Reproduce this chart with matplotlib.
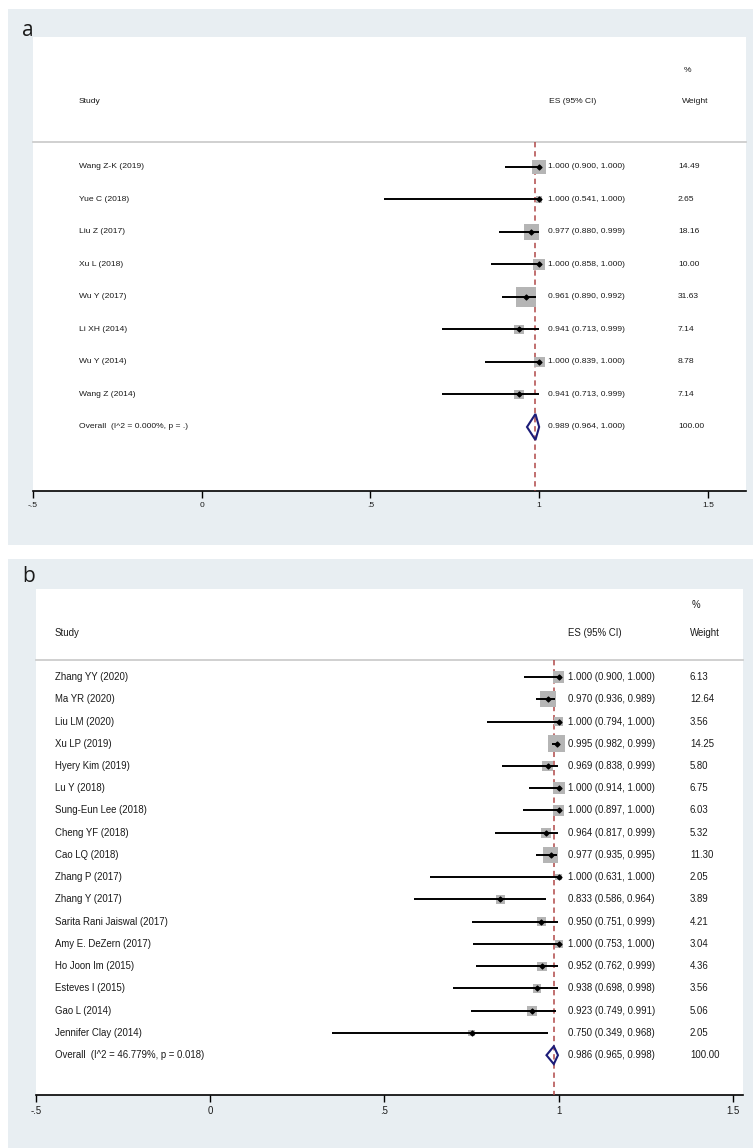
import matplotlib
matplotlib.use("Agg")
import matplotlib.pyplot as plt
from matplotlib import font_manager
from matplotlib.patches import Rectangle, Polygon
from matplotlib.transforms import blended_transform_factory

# ---------------- data ----------------
studies_a = ["Wang Z-K (2019)", "Yue C (2018)", "Liu Z (2017)", "Xu L (2018)",
             "Wu Y (2017)", "Li XH (2014)", "Wu Y (2014)", "Wang Z (2014)"]
es_a = [1.000, 1.000, 0.977, 1.000, 0.961, 0.941, 1.000, 0.941]
lo_a = [0.900, 0.541, 0.880, 0.858, 0.890, 0.713, 0.839, 0.713]
hi_a = [1.000, 1.000, 0.999, 1.000, 0.992, 0.999, 1.000, 0.999]
w_a = [14.49, 2.65, 18.16, 10.00, 31.63, 7.14, 8.78, 7.14]
overall_a = [0.989, 0.964, 1.000]
overall_w_a = 100.00
overall_label_a = "Overall  (I^2 = 0.000%, p = .)"

studies_b = ["Zhang YY (2020)", "Ma YR (2020)", "Liu LM (2020)", "Xu LP (2019)",
             "Hyery Kim (2019)", "Lu Y (2018)", "Sung-Eun Lee (2018)", "Cheng YF (2018)",
             "Cao LQ (2018)", "Zhang P (2017)", "Zhang Y (2017)",
             "Sarita Rani Jaiswal (2017)", "Amy E. DeZern (2017)", "Ho Joon Im (2015)",
             "Esteves I (2015)", "Gao L (2014)", "Jennifer Clay (2014)"]
es_b = [1.000, 0.970, 1.000, 0.995, 0.969, 1.000, 1.000, 0.964, 0.977, 1.000,
        0.833, 0.950, 1.000, 0.952, 0.938, 0.923, 0.750]
lo_b = [0.900, 0.936, 0.794, 0.982, 0.838, 0.914, 0.897, 0.817, 0.935, 0.631,
        0.586, 0.751, 0.753, 0.762, 0.698, 0.749, 0.349]
hi_b = [1.000, 0.989, 1.000, 0.999, 0.999, 1.000, 1.000, 0.999, 0.995, 1.000,
        0.964, 0.999, 1.000, 0.999, 0.998, 0.991, 0.968]
w_b = [6.13, 12.64, 3.56, 14.25, 5.80, 6.75, 6.03, 5.32, 11.30, 2.05,
       3.89, 4.21, 3.04, 4.36, 3.56, 5.06, 2.05]
overall_b = [0.986, 0.965, 0.998]
overall_w_b = 100.00
overall_label_b = "Overall  (I^2 = 46.779%, p = 0.018)"

tick_vals = [-0.5, 0, 0.5, 1, 1.5]
tick_labels = ["-.5", "0", ".5", "1", "1.5"]

# ---------------- style ----------------
W, H = 753, 1148
DPI = 100
BG = "#e8eef2"
TXT = "#1a1a1a"
plt.rcParams['font.family'] = ['Liberation Sans', 'DejaVu Sans']

# narrow font for panel a if available
try:
    font_manager.findfont(font_manager.FontProperties(family="Liberation Sans Narrow"),
                          fallback_to_default=False)
    FAM_A = ['Liberation Sans Narrow', 'Liberation Sans', 'DejaVu Sans']
    FS_A = 7.3
except Exception:
    FAM_A = ['Liberation Sans', 'DejaVu Sans']
    FS_A = 6.1
FAM_B = ['Liberation Sans', 'DejaVu Sans']

fig = plt.figure(figsize=(W / DPI, H / DPI), dpi=DPI)
fig.patch.set_facecolor("white")


def px_rect(x0, y0, x1, y1):
    return [x0 / W, 1 - y1 / H, (x1 - x0) / W, (y1 - y0) / H]


# grey panel backgrounds
for (x0, y0, x1, y1) in [(8, 9, 753, 545), (8, 559, 753, 1148)]:
    l, b, w, h = px_rect(x0, y0, x1, y1)
    fig.add_artist(Rectangle((l, b), w, h, transform=fig.transFigure,
                             facecolor=BG, edgecolor="none", zorder=-5))

fig.text(22 / W, 1 - 30 / H, "a", fontsize=15, family=['Open Sans', 'DejaVu Sans'],
         va="center", ha="left", color=TXT)
fig.text(22 / W, 1 - 577 / H, "b", fontsize=15, family=['Open Sans', 'DejaVu Sans'],
         va="center", ha="left", color=TXT)


def forest(rect, studies, es, lo, hi, w, overall, overall_w, overall_label,
           xlim, ylim, fs, fam, box_k, x_name, x_val, x_wt, x_es_hdr, x_wt_hdr, y_pct,
           tick_len):
    ax = fig.add_axes(rect)
    ax.set_facecolor("white")
    ax.set_xlim(*xlim)
    ax.set_ylim(*ylim)
    tr = blended_transform_factory(ax.transAxes, ax.transData)
    kw = dict(transform=tr, fontsize=fs, family=fam, va="center", color=TXT)
    n = len(studies)
    rows = list(range(n))
    # headers
    ax.text(x_name, -2, "Study", **kw)
    ax.text(x_es_hdr, -2, "ES (95% CI)", **kw)
    ax.text(x_wt_hdr, -2, "Weight", **kw)
    ax.text(x_wt_hdr + 0.002, y_pct, "%", **kw)
    ax.plot([0, 1], [-0.77, -0.77], transform=tr, color="#c8c8c8", lw=1.2,
            clip_on=False, zorder=2)
    # reference dashed line at overall estimate
    ax.plot([overall[0], overall[0]], [-0.77, ylim[0]], color="#b04848", lw=1.1,
            ls=(0, (3.5, 2.5)), zorder=3)
    # boxes
    sizes = [(box_k * (wi ** 0.5) * 72 / DPI) ** 2 for wi in w]
    ax.scatter(es, rows, s=sizes, marker="s", color="#b5b5b5", edgecolors="none", zorder=4)
    for i in rows:
        ax.plot([lo[i], hi[i]], [i, i], color="black", lw=1.4, zorder=5,
                solid_capstyle="butt")
        ax.text(x_name, i, studies[i], **kw)
        ax.text(x_val, i, f"{es[i]:.3f} ({lo[i]:.3f}, {hi[i]:.3f})", **kw)
        ax.text(x_wt, i, f"{w[i]:.2f}", **kw)
    ax.scatter(es, rows, s=6, marker="D", color="black", zorder=6)
    # overall diamond
    yo = n
    hh = 0.4
    ax.add_patch(Polygon([(overall[1], yo), (overall[0], yo - hh), (overall[2], yo),
                          (overall[0], yo + hh)], closed=True, fill=False,
                         edgecolor="#1c1c78", lw=1.5, zorder=6))
    ax.text(x_name, yo, overall_label, **kw)
    ax.text(x_val, yo, f"{overall[0]:.3f} ({overall[1]:.3f}, {overall[2]:.3f})", **kw)
    ax.text(x_wt, yo, f"{overall_w:.2f}", **kw)
    # axis
    for s in ["top", "left", "right"]:
        ax.spines[s].set_visible(False)
    ax.spines["bottom"].set_linewidth(1.2)
    ax.set_yticks([])
    ax.set_xticks(tick_vals)
    ax.set_xticklabels(tick_labels, family=fam)
    ax.tick_params(axis="x", direction="out", length=tick_len, width=1.0, pad=3,
                   labelsize=fs, labelcolor=TXT)
    return ax


# panel a
forest(px_rect(33, 37, 746, 491), studies_a, es_a, lo_a, hi_a, w_a, overall_a,
       overall_w_a, overall_label_a,
       xlim=(-0.5, 1.613), ylim=(9.97, -4.0), fs=FS_A, fam=FAM_A, box_k=3.7,
       x_name=(79 - 33) / 713, x_val=(548 - 33) / 713, x_wt=(678 - 33) / 713,
       x_es_hdr=(549 - 33) / 713, x_wt_hdr=(682 - 33) / 713, y_pct=-2.98,
       tick_len=5)

# panel b
forest(px_rect(36, 589, 743, 1095), studies_b, es_b, lo_b, hi_b, w_b, overall_b,
       overall_w_b, overall_label_b,
       xlim=(-0.5, 1.529), ylim=(18.79, -3.957), fs=6.9, fam=FAM_B, box_k=4.5,
       x_name=(55 - 36) / 707, x_val=(568 - 36) / 707, x_wt=(690 - 36) / 707,
       x_es_hdr=(568 - 36) / 707, x_wt_hdr=(690 - 36) / 707, y_pct=-3.24,
       tick_len=5)

fig.savefig("out.png", dpi=DPI, facecolor="white")
